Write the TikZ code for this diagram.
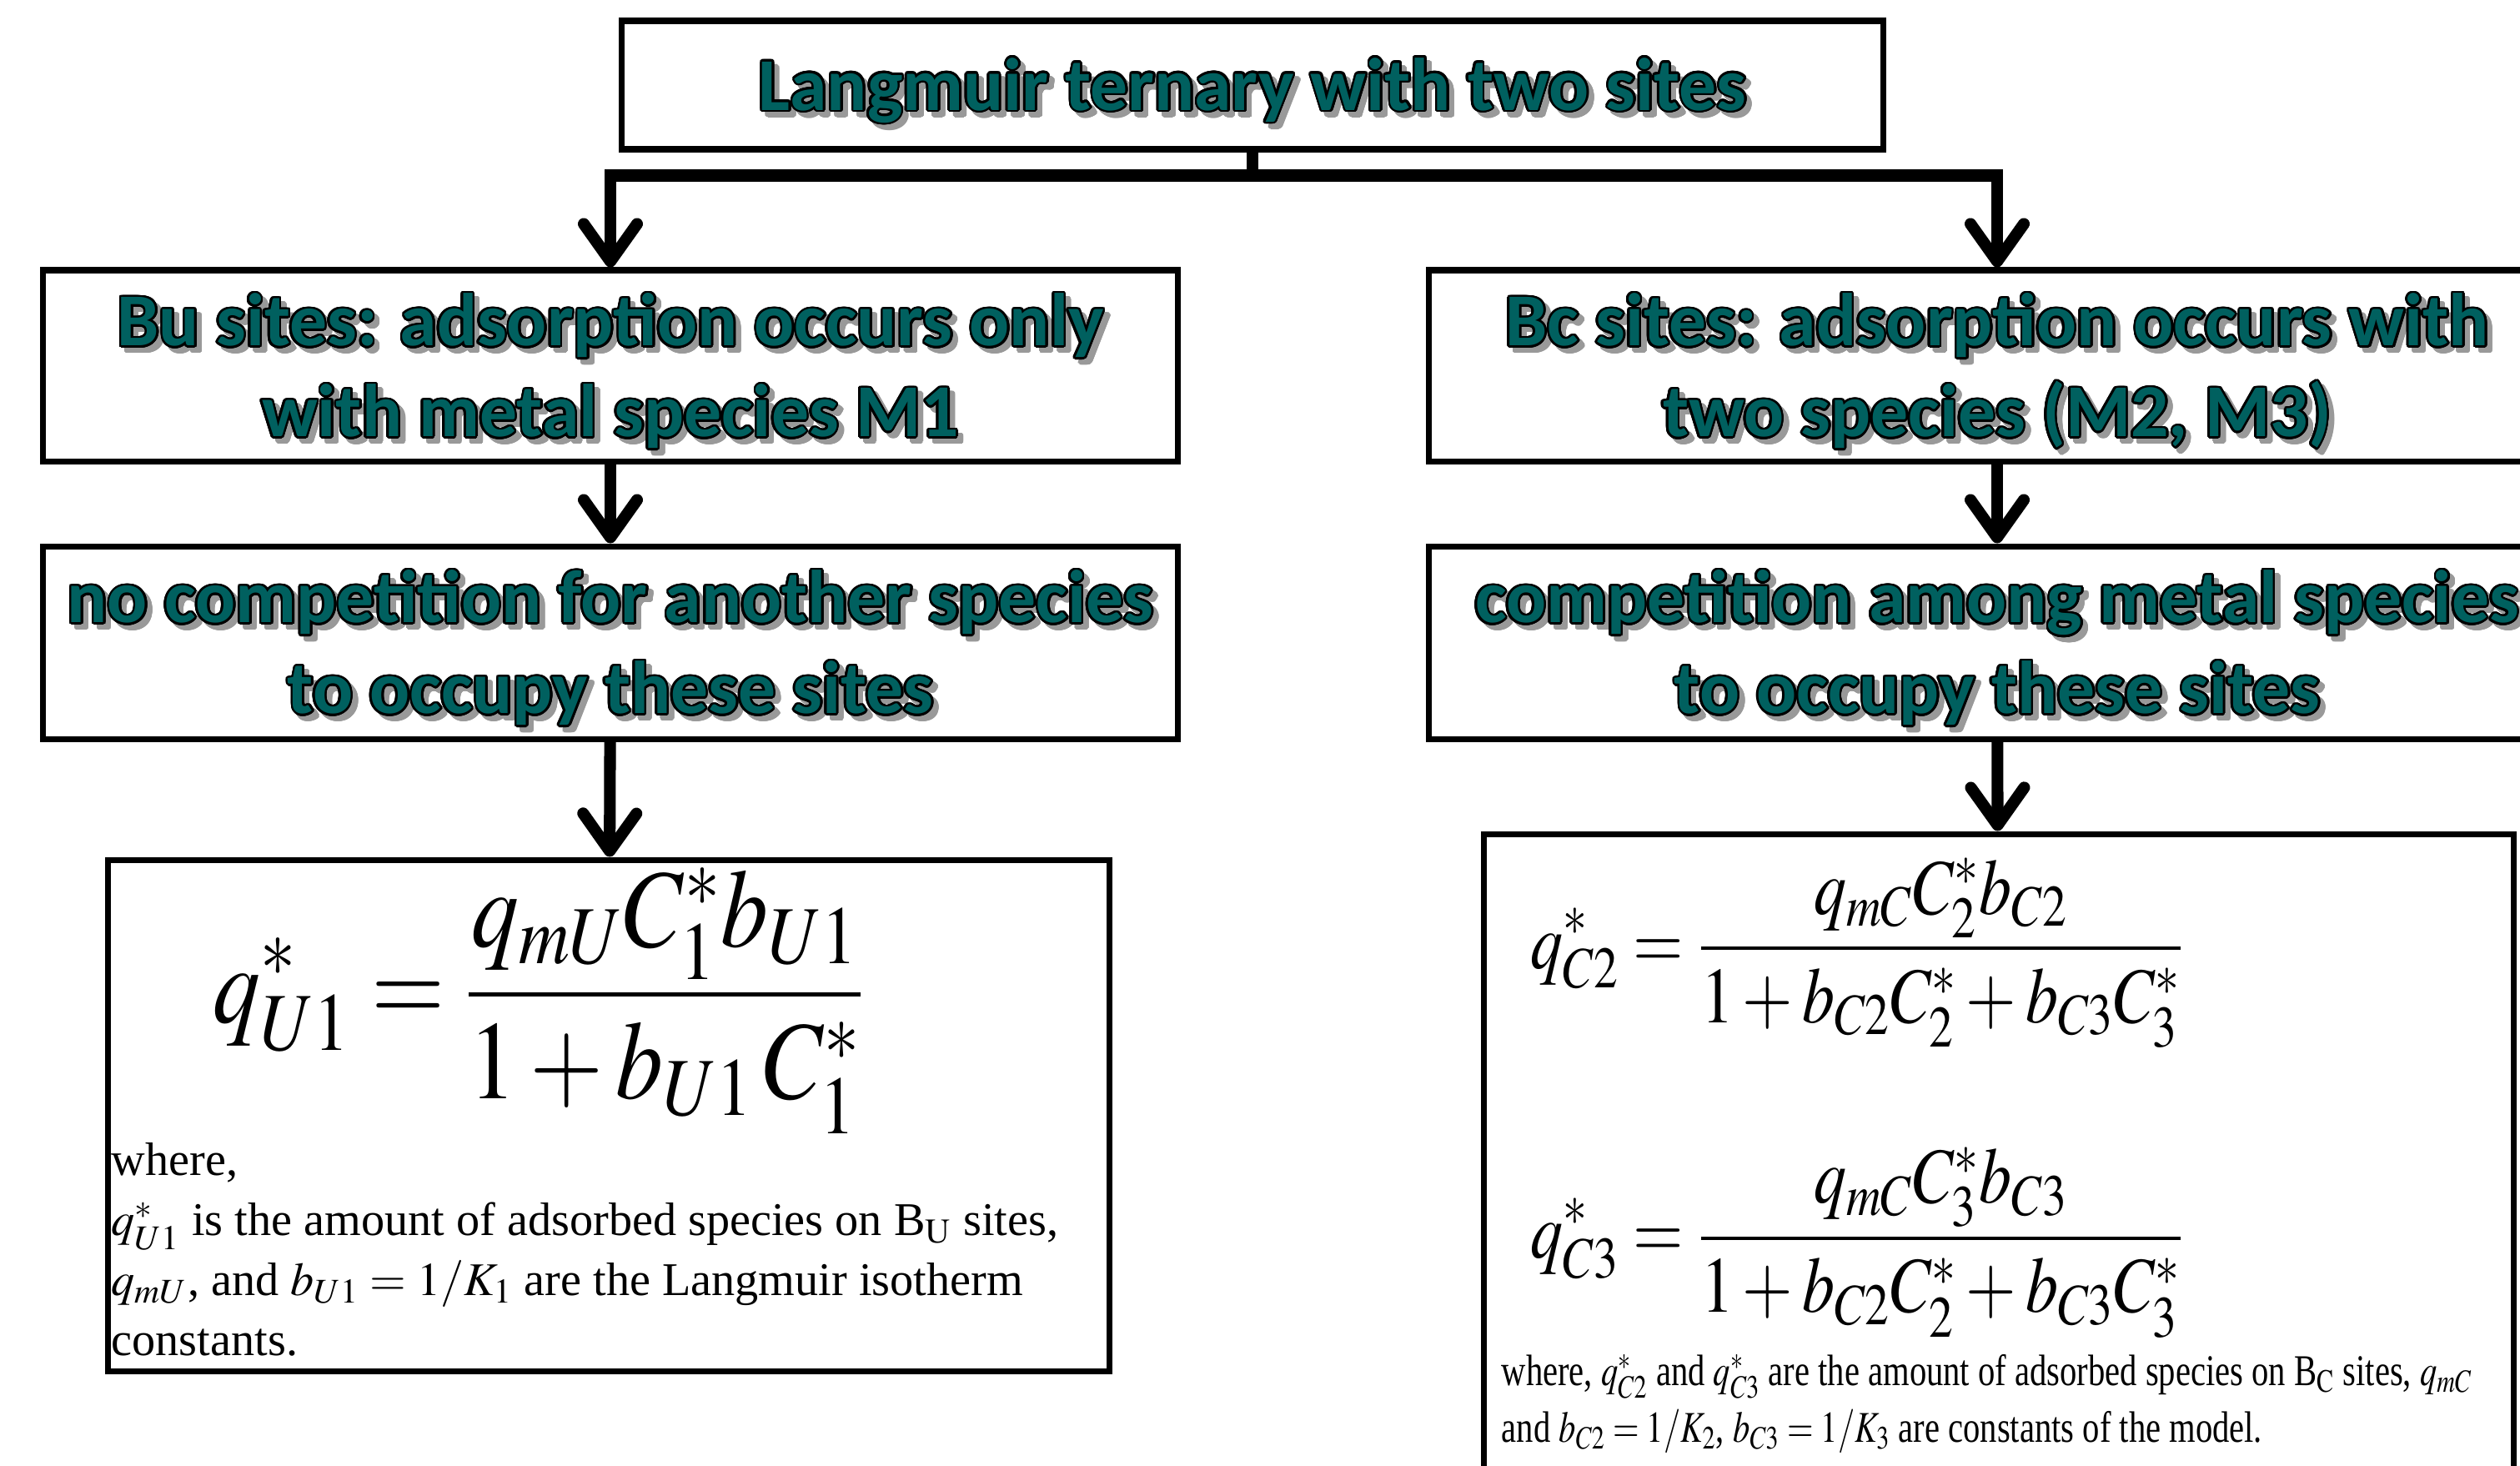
\documentclass[tikz,border=0pt]{standalone}
\usepackage{mathptmx}
\usepackage{fontspec}
\setmainfont{Liberation Serif}
\newfontfamily\boxfont{Carlito}
\usepackage{contour}
\usetikzlibrary{arrows.meta}
\definecolor{langteal}{HTML}{00605F}
\contourlength{0.75pt}
\contournumber{24}
% outlined teal text with a soft shadow
\newcommand\olt[1]{\leavevmode\rlap{\kern1.8pt\raisebox{-1.8pt}{\color{black!40}\contour{black!40}{#1}}}\contour{black}{#1}}
\newcommand\topgap{\rule{0pt}{24pt}}

\begin{document}
\begin{tikzpicture}[
  box/.style={draw, line width=2pt, inner sep=0pt, text=langteal, align=center,
    font=\boxfont\bfseries\fontsize{25.5}{31}\selectfont},
  eqbox/.style={draw, line width=2pt, inner sep=0pt},
  flow/.style={line width=4pt, -{Straight Barb[length=4.5mm,width=6.4mm,round]}},
  link/.style={line width=4pt},
  desc/.style={inner sep=0pt, anchor=north west, align=left}
]
\useasboundingbox (0,0) rectangle (30.22,-17.57);
\clip (0,0) rectangle (30.22,-17.57);

% top of the tree
\node[box, minimum width=15.13cm, minimum height=1.54cm] (title) at (15.02,-1.02)
  {\topgap\olt{Langmuir ternary with two sites}};
\coordinate (split) at (15.02,-2.105);

% Bu branch
\node[box, minimum width=13.61cm, minimum height=2.29cm] (bu) at (7.32,-4.385)
  {\topgap\olt{Bu sites: adsorption occurs only}\\\olt{with metal species M1}};
\node[box, minimum width=13.61cm, minimum height=2.31cm] (nocomp) at (7.32,-7.705)
  {\topgap\olt{no competition for another species}\\\olt{to occupy these sites}};
\node[eqbox, minimum width=12.01cm, minimum height=6.13cm] (equ) at (7.30,-13.375) {};
\node[anchor=west, inner sep=0pt, font=\fontsize{38}{44}\selectfont] (fu) at (2.55,-12.0)
  {\scalebox{0.85}[1]{$\displaystyle q^{*}_{U1}=\frac{q_{mU}C_1^{*}b_{U1}}{1+b_{U1}\,C_1^{*}}$}};
\node[desc, font=\fontsize{16}{20.5}\selectfont] (du) at (1.33,-13.70)
  {where,\\
   $q^{*}_{U1}$ is the amount of adsorbed species on B$_{\mathrm{U}}$ sites,\\
   $q_{mU}$, and $b_{U1}=1/K_1$ are the Langmuir isotherm\\
   constants.};

% Bc branch
\node[box, minimum width=13.64cm, minimum height=2.29cm] (bc) at (23.95,-4.385)
  {\topgap\olt{Bc sites: adsorption occurs with}\\\olt{two species (M2, M3)}};
\node[box, minimum width=13.64cm, minimum height=2.31cm] (comp) at (23.95,-7.705)
  {\topgap\olt{competition among metal species}\\\olt{to occupy these sites}};
\node[eqbox, minimum width=12.35cm, minimum height=7.7cm] (eqc) at (23.965,-13.85) {};
\node[anchor=west, inner sep=0pt, font=\fontsize{27}{32}\selectfont] (fc2) at (18.35,-11.43)
  {\scalebox{0.82}[1]{$\displaystyle q^{*}_{C2}=\frac{q_{mC}C_2^{*}b_{C2}}{1+b_{C2}C_2^{*}+b_{C3}C_3^{*}}$}};
\node[anchor=west, inner sep=0pt, font=\fontsize{27}{32}\selectfont] (fc3) at (18.35,-14.90)
  {\scalebox{0.82}[1]{$\displaystyle q^{*}_{C3}=\frac{q_{mC}C_3^{*}b_{C3}}{1+b_{C2}C_2^{*}+b_{C3}C_3^{*}}$}};
\node[desc, font=\fontsize{15}{19.3}\selectfont] (dc) at (18.0,-16.13)
  {\scalebox{0.77}[1]{\begin{tabular}{@{}l@{}}
   where, $q^{*}_{C2}$ and $q^{*}_{C3}$ are the amount of adsorbed species on B$_{\mathrm{C}}$ sites, $q_{mC}$\\
   and $b_{C2}=1/K_2$, $b_{C3}=1/K_3$ are constants of the model.
   \end{tabular}}};

% connectors
\draw[link] (title.south) -- (split);
\draw[flow] (split) -| (bu.north);
\draw[flow] (split) -| (bc.north);
\draw[flow] (bu) -- (nocomp);
\draw[flow] (bc) -- (comp);
\draw[flow] (nocomp) -- (equ);
\draw[flow] (comp) -- (eqc);
\end{tikzpicture}
\end{document}
